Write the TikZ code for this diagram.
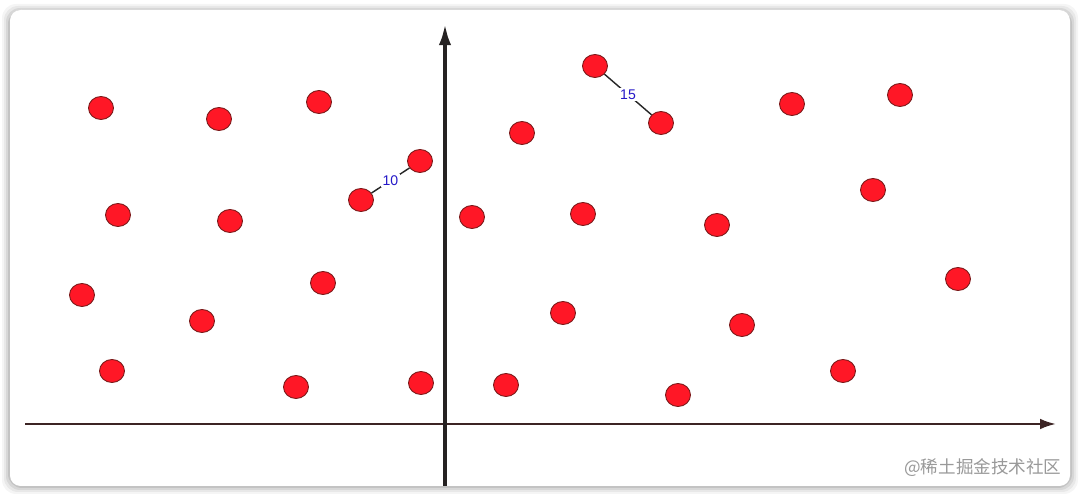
\documentclass[tikz,border=0pt]{standalone}
\usepackage{fontspec}
\setsansfont{Liberation Sans}
\newfontfamily\cjk{Noto Sans CJK SC}
\usetikzlibrary{shapes.geometric,arrows.meta}
\definecolor{dotred}{HTML}{FF1726}
\definecolor{dotrim}{HTML}{7A1A1A}
\definecolor{labelblue}{HTML}{2418C8}
\definecolor{axisdark}{HTML}{262222}
\definecolor{axisred}{HTML}{3C2424}

\begin{document}
\begin{tikzpicture}[x=0.02cm, y=-0.02cm, thick,
            dot node/.style={ellipse,draw=dotrim,line width=0.5pt,fill=dotred,
              minimum width=0.5cm,minimum height=0.46cm,inner sep=0pt},
            dist label/.style={fill=white,inner sep=1pt,text=labelblue,font=\sffamily\footnotesize}]

        % card with soft shadow
        \fill[white] (0,0) rectangle (1080,496);
        \foreach \s/\o in {8/0.04,6/0.05,4/0.07,2/0.09}
          \fill[black,opacity=\o,rounded corners=8] (10-\s,10-\s+2) rectangle (1070+\s,486+\s);
        \fill[white,rounded corners=6] (10,10) rectangle (1070,486);
        \useasboundingbox (0,0) rectangle (1080,496);

        % axes
        \coordinate (xstart) at (25,424);
        \coordinate (xend) at (1056,424);
        \coordinate (ystart) at (445,486);
        \coordinate (yend) at (445,24);
        \draw[axisred,line width=1.3pt,-{Latex[length=9pt,width=6pt]}] (xstart) -- (xend);
        \draw[axisdark,line width=2pt,-{Latex[length=12pt,width=7pt]}] (ystart) -- (yend);

        % left half
        \node[dot node] (l1) at (101,108) {};
        \node[dot node] (l2) at (219,119) {};
        \node[dot node] (l3) at (319,102) {};
        \node[dot node] (l4) at (118,215) {};
        \node[dot node] (l5) at (230,221) {};
        \node[dot node] (l6) at (361,200) {};
        \node[dot node] (l7) at (420,161) {};
        \node[dot node] (l8) at (82,295) {};
        \node[dot node] (l9) at (202,321) {};
        \node[dot node] (l10) at (323,283) {};
        \node[dot node] (l11) at (112,371) {};
        \node[dot node] (l12) at (296,387) {};
        \node[dot node] (l13) at (421,383) {};

        % right half
        \node[dot node] (r1) at (595,66) {};
        \node[dot node] (r2) at (661,123) {};
        \node[dot node] (r3) at (522,133) {};
        \node[dot node] (r4) at (792,104) {};
        \node[dot node] (r5) at (900,95) {};
        \node[dot node] (r6) at (472,217) {};
        \node[dot node] (r7) at (583,214) {};
        \node[dot node] (r8) at (717,225) {};
        \node[dot node] (r9) at (873,190) {};
        \node[dot node] (r10) at (563,313) {};
        \node[dot node] (r11) at (742,325) {};
        \node[dot node] (r12) at (958,279) {};
        \node[dot node] (r13) at (506,385) {};
        \node[dot node] (r14) at (678,395) {};
        \node[dot node] (r15) at (843,371) {};

        \path[draw=black!85,line width=0.8pt]
        (l6) edge node[dist label] {10} (l7)
        (r1) edge node[dist label] {15} (r2);

        \node[text=black!40,anchor=east,font=\cjk\normalsize] (mark) at (1068,468) {@稀土掘金技术社区};
        \end{tikzpicture}
\end{document}
